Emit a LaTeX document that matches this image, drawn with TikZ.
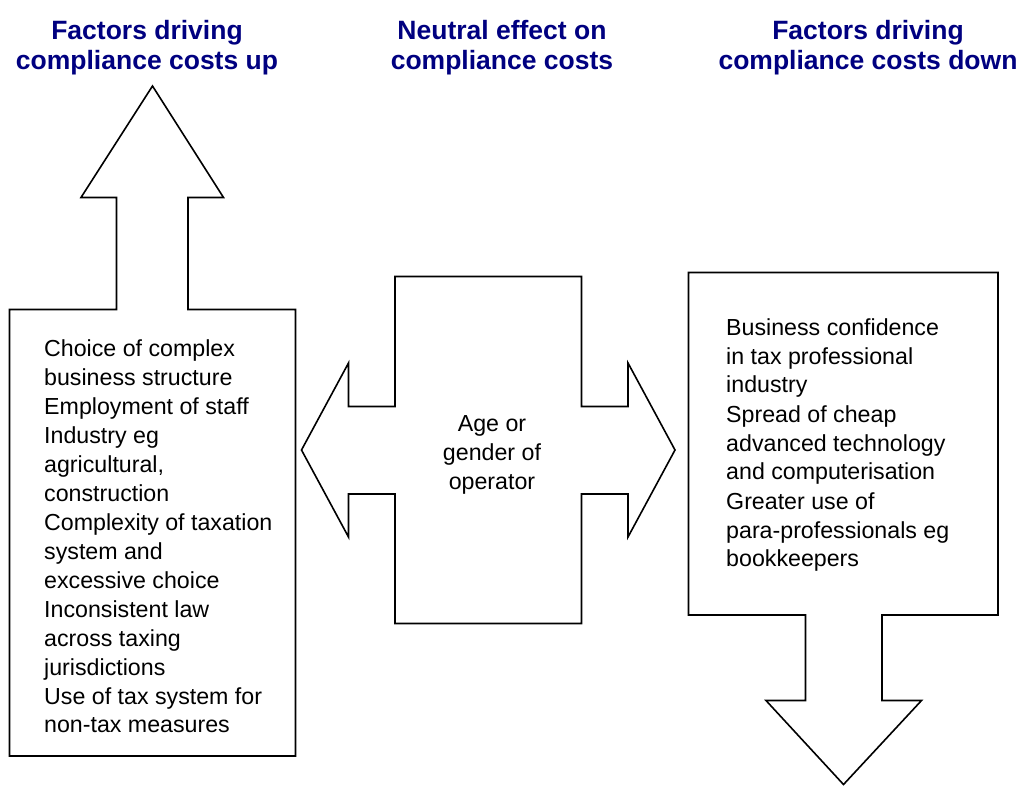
\documentclass[tikz,border=0pt]{standalone}
\usepackage{fontspec}
\setmainfont{Liberation Sans}
\definecolor{hdrblue}{RGB}{0,0,128}
\tikzset{
  shapeline/.style={draw=black, line width=1.6pt, line join=miter, fill=white},
  hdr/.style={font=\fontsize{26.5}{30}\selectfont\bfseries, text=hdrblue, align=center, inner sep=0pt},
  body/.style={font=\fontsize{23.2}{29}\selectfont, inner sep=0pt},
}
\newcommand{\lst}[1]{\begin{tabular}[t]{@{}l@{}}#1\end{tabular}}
\begin{document}
\begin{tikzpicture}[x=1pt,y=-1pt]
\useasboundingbox (0,0) rectangle (1020,786);
% left shape: box with up arrow
\draw[shapeline] (9.5,309.5) -- (116.5,309.5) -- (116.5,197.5) -- (81,197.5) -- (152.5,86)
  -- (223.5,197.5) -- (188,197.5) -- (188,309.5) -- (295.5,309.5) -- (295.5,756)
  -- (9.5,756) -- cycle;
% middle shape: box with left/right arrows
\draw[shapeline] (395,276.5) -- (581.5,276.5) -- (581.5,406.5) -- (628,406.5) -- (628,363)
  -- (675,450) -- (628,537) -- (628,494) -- (581.5,494) -- (581.5,623.5) -- (395,623.5)
  -- (395,494) -- (348.5,494) -- (348.5,537) -- (301.5,450) -- (348.5,363)
  -- (348.5,406.5) -- (395,406.5) -- cycle;
% right shape: box with down arrow
\draw[shapeline] (688.5,272.5) -- (998,272.5) -- (998,615) -- (882,615) -- (882,700.5)
  -- (921.5,700.5) -- (843.5,784.5) -- (766,700.5) -- (805.5,700.5) -- (805.5,615)
  -- (688.5,615) -- cycle;
% headers
\node[hdr, anchor=base] (h1) at (147,39.5) {Factors driving};
\node[hdr, anchor=base] (h1b) at (147,69.5) {compliance costs up};
\node[hdr, anchor=base] (h2) at (502,39.5) {Neutral effect on};
\node[hdr, anchor=base] (h2b) at (502,69.5) {compliance costs};
\node[hdr, anchor=base] (h3) at (868,39.5) {Factors driving};
\node[hdr, anchor=base] (h3b) at (868,69.5) {compliance costs down};
% body texts
\node[body, anchor=base west] (lt) at (44,356) {\lst{Choice of complex\\ business structure\\ Employment of staff\\ Industry eg\\ agricultural,\\ construction\\ Complexity of taxation\\ system and\\ excessive choice\\ Inconsistent law\\ across taxing\\ jurisdictions\\ Use of tax system for\\ non-tax measures}};
\node[body, anchor=base] (mt1) at (492,431) {Age or};
\node[body, anchor=base] (mt2) at (492,460) {gender of};
\node[body, anchor=base] (mt3) at (492,489) {operator};
\node[body, anchor=base west] (rt) at (726,335) {\lst{Business confidence\\ in tax professional\\ industry\\ Spread of cheap\\ advanced technology\\ and computerisation\\ Greater use of\\ para-professionals eg\\ bookkeepers}};
\end{tikzpicture}
\end{document}
